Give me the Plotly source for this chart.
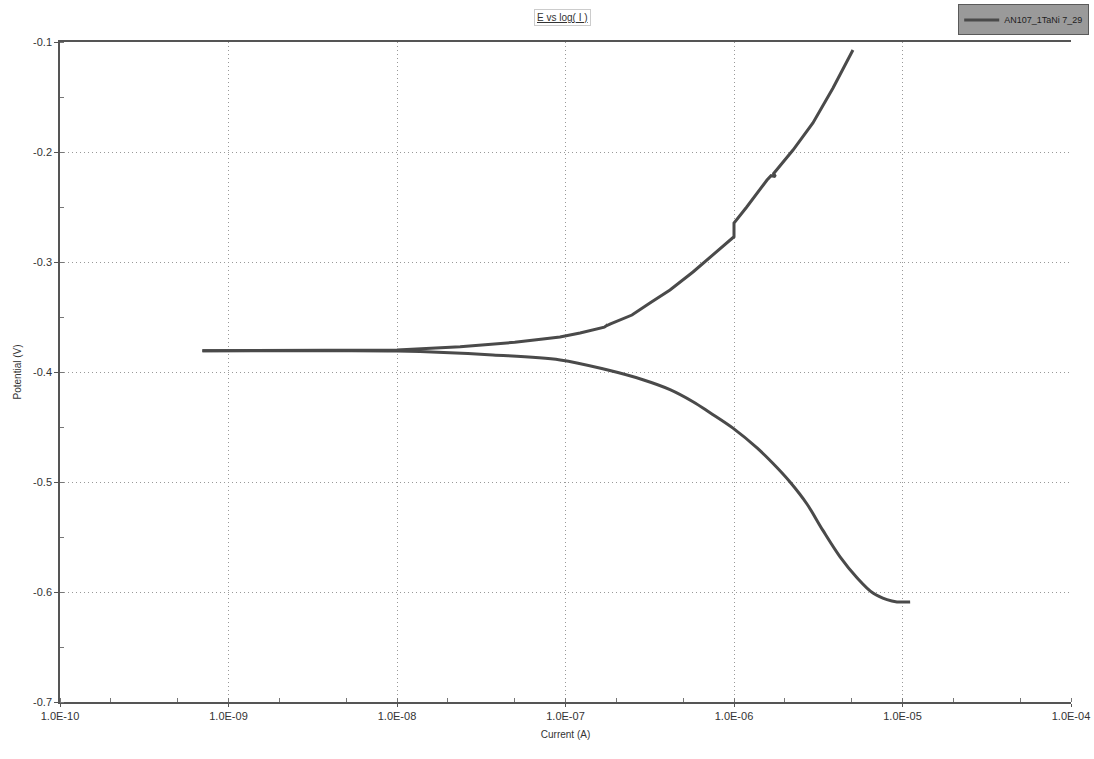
import plotly.graph_objects as go

# Cathodic branch (from high-current end toward corrosion potential)
cath_current = [1.11e-5, 9.27e-6, 8.09e-6, 6.68e-6, 5.37e-6, 4.26e-6, 3.37e-6,
                2.71e-6, 2.15e-6, 1.70e-6, 1.37e-6, 9.86e-7, 7.21e-7, 5.71e-7,
                4.17e-7, 2.88e-7, 1.76e-7, 9.3e-8, 3.7e-8, 1.0e-8, 3.2e-9, 7.0e-10]
cath_potential = [-0.609, -0.609, -0.607, -0.601, -0.587, -0.568, -0.544,
                  -0.520, -0.500, -0.483, -0.469, -0.451, -0.437, -0.427,
                  -0.416, -0.407, -0.398, -0.389, -0.3845, -0.381, -0.3807, -0.3807]

# Anodic branch (from corrosion potential upward)
anod_current = [7.0e-10, 3.2e-9, 1.0e-8, 2.37e-8, 5.0e-8, 7.35e-8, 9.27e-8,
                1.22e-7, 1.66e-7, 1.70e-7, 1.78e-7, 1.74e-7, 1.85e-7, 2.48e-7,
                3.17e-7, 4.17e-7, 5.71e-7, 7.21e-7, 9.73e-7, 1.0e-6, 1.0e-6,
                1.19e-6, 1.57e-6, 1.66e-6, 1.76e-6, 1.72e-6, 2.24e-6, 2.94e-6,
                3.87e-6, 5.08e-6]
anod_potential = [-0.3807, -0.3803, -0.380, -0.377, -0.373, -0.370, -0.3682,
                  -0.3645, -0.3598, -0.3592, -0.3570, -0.3582, -0.3562, -0.3482,
                  -0.3373, -0.3255, -0.3091, -0.2955, -0.2782, -0.2770, -0.2645,
                  -0.2500, -0.2255, -0.2215, -0.2222, -0.2195, -0.1982, -0.1736,
                  -0.1418, -0.1073]

x_tickvals = [1e-10, 1e-9, 1e-8, 1e-7, 1e-6, 1e-5, 1e-4]
x_ticktext = ["1.0E-10", "1.0E-09", "1.0E-08", "1.0E-07", "1.0E-06", "1.0E-05", "1.0E-04"]
y_tickvals = [-0.1, -0.2, -0.3, -0.4, -0.5, -0.6, -0.7]
y_ticktext = ["-0.1", "-0.2", "-0.3", "-0.4", "-0.5", "-0.6", "-0.7"]

line_color = "#4a4a4a"
fig = go.Figure()
fig.add_trace(go.Scatter(x=cath_current, y=cath_potential, mode="lines",
                         line=dict(color=line_color, width=3, shape="spline", smoothing=1.0),
                         showlegend=False, hoverinfo="skip"))
fig.add_trace(go.Scatter(x=anod_current, y=anod_potential, mode="lines",
                         line=dict(color=line_color, width=3),
                         name="AN107_1TaNi 7_29"))

font = "Liberation Sans, Arial, sans-serif"
grid_dash = "1px,3px"
fig.update_layout(
    width=1094, height=759,
    margin=dict(l=60, r=23, t=42, b=57, autoexpand=False),
    paper_bgcolor="white", plot_bgcolor="white",
    font=dict(family=font, size=10, color="#333333"),
    showlegend=True,
    legend=dict(x=1.018, xanchor="right", y=1.01, yanchor="bottom",
                bgcolor="#9a9a9a", bordercolor="#5a5a5a", borderwidth=1,
                font=dict(size=9, color="#222222"), orientation="h",
                itemwidth=35, tracegroupgap=0),
    xaxis=dict(type="log", range=[-10, -4], tickvals=x_tickvals, ticktext=x_ticktext,
               showgrid=True, gridcolor="#999999", griddash=grid_dash, gridwidth=1,
               showline=True, linecolor="#555555", linewidth=1.5, mirror=True,
               ticks="outside", ticklen=3, tickcolor="#555555",
               minor=dict(ticks="inside", ticklen=4, tickcolor="#777777", showgrid=False),
               title=dict(text="Current (A)", font=dict(size=10), standoff=10),
               zeroline=False, tickfont=dict(size=11, color="#333333")),
    yaxis=dict(range=[-0.7, -0.1], tickvals=y_tickvals, ticktext=y_ticktext,
               showgrid=True, gridcolor="#999999", griddash=grid_dash, gridwidth=1,
               showline=True, linecolor="#555555", linewidth=1.5, mirror=False,
               ticks="outside", ticklen=4, tickcolor="#555555",
               minor=dict(dtick=0.05, tick0=-0.7, ticks="inside", ticklen=4,
                          tickcolor="#777777", showgrid=False),
               title=dict(text="Potential (V)", font=dict(size=10), standoff=10),
               zeroline=False, tickfont=dict(size=11, color="#333333")),
    annotations=[dict(text="<u>E vs log( I )</u>", xref="paper", yref="paper",
                      x=0.497, y=1.025, xanchor="center", yanchor="bottom",
                      showarrow=False, font=dict(size=10, color="#333333"),
                      bordercolor="#cccccc", borderwidth=1, borderpad=2,
                      bgcolor="white")],
)

fig.write_html("out.html",
               config={"displayModeBar": False},
               post_script="document.body.style.margin='0';document.body.style.overflow='hidden';")
